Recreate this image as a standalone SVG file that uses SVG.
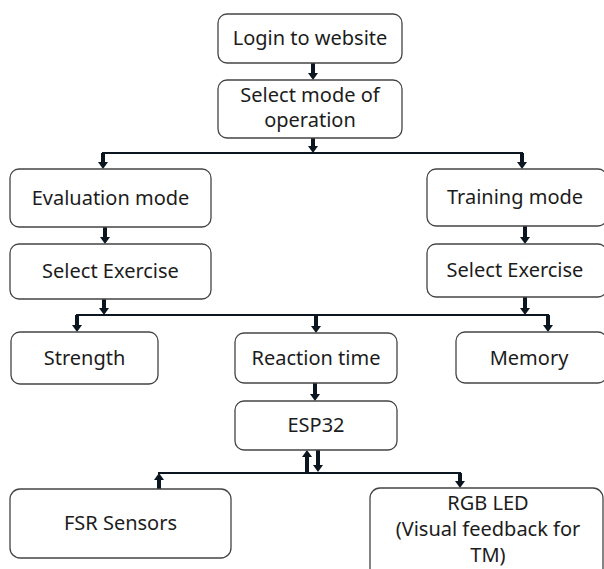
<svg xmlns="http://www.w3.org/2000/svg" width="604" height="569" viewBox="0 0 604 569">
<defs>
<style>
.box{fill:#fff;stroke:#444;stroke-width:1.3}
.t{font-family:"Noto Sans","Liberation Sans",sans-serif;font-size:20px;fill:#1c1c1c;text-anchor:middle}
.ln{stroke:#0c1620;stroke-width:2;fill:none}
.ar{stroke:#0c1620;stroke-width:4;fill:none;marker-end:url(#ah)}
</style>
<marker id="ah" markerUnits="userSpaceOnUse" markerWidth="7" markerHeight="10" refX="2" refY="5" orient="auto" viewBox="0 0 7 10">
<path d="M0,0 L7,5 L0,10 Z" fill="#0c1620"/>
</marker>
</defs>
<rect width="604" height="569" fill="#fff"/>
<g id="connectors">
<line class="ar" x1="313" y1="63" x2="313" y2="75"/>
<line class="ar" x1="313" y1="138" x2="313" y2="148"/>
<line class="ln" x1="102" y1="153" x2="523" y2="153"/>
<line class="ar" x1="103" y1="153" x2="103" y2="164"/>
<line class="ar" x1="522" y1="153" x2="522" y2="164"/>
<line class="ar" x1="105" y1="227" x2="105" y2="239"/>
<line class="ar" x1="525" y1="226" x2="525" y2="239"/>
<line class="ar" x1="104" y1="299" x2="104" y2="310"/>
<line class="ar" x1="525" y1="297" x2="525" y2="310"/>
<line class="ln" x1="76" y1="315" x2="549" y2="315"/>
<line class="ar" x1="77" y1="315" x2="77" y2="327"/>
<line class="ar" x1="316" y1="315" x2="316" y2="328"/>
<line class="ar" x1="548" y1="315" x2="548" y2="327"/>
<line class="ar" x1="315" y1="383" x2="315" y2="396"/>
<line class="ar" x1="307" y1="473" x2="307" y2="455"/>
<line class="ar" x1="318" y1="450" x2="318" y2="467"/>
<line class="ln" x1="158" y1="473" x2="461" y2="473"/>
<line class="ar" x1="159" y1="489" x2="159" y2="478"/>
<line class="ar" x1="460" y1="473" x2="460" y2="483"/>
</g>
<g id="login"><rect class="box" x="218" y="14" width="184" height="49" rx="9"/><text class="t" x="310" y="45">Login to website</text></g>
<g id="select-mode"><rect class="box" x="218" y="80" width="184" height="58" rx="9"/><text class="t" x="310" y="102">Select mode of</text><text class="t" x="310" y="127">operation</text></g>
<g id="evaluation"><rect class="box" x="10" y="169" width="201" height="58" rx="9"/><text class="t" x="110.5" y="205">Evaluation mode</text></g>
<g id="training"><rect class="box" x="427" y="169" width="180" height="57" rx="9"/><text class="t" x="515" y="204">Training mode</text></g>
<g id="select-ex-left"><rect class="box" x="10" y="244" width="201" height="55" rx="9"/><text class="t" x="110.5" y="278">Select Exercise</text></g>
<g id="select-ex-right"><rect class="box" x="427" y="244" width="180" height="53" rx="9"/><text class="t" x="515" y="277">Select Exercise</text></g>
<g id="strength"><rect class="box" x="11" y="332" width="147" height="52" rx="9"/><text class="t" x="84.5" y="365">Strength</text></g>
<g id="reaction"><rect class="box" x="235" y="333" width="162" height="50" rx="9"/><text class="t" x="316" y="365">Reaction time</text></g>
<g id="memory"><rect class="box" x="456" y="332" width="151" height="51" rx="9"/><text class="t" x="529" y="365">Memory</text></g>
<g id="esp32"><rect class="box" x="235" y="401" width="162" height="49" rx="9"/><text class="t" x="316" y="432">ESP32</text></g>
<g id="fsr"><rect class="box" x="10" y="489" width="221" height="69" rx="10"/><text class="t" x="120.5" y="530">FSR Sensors</text></g>
<g id="rgb"><rect class="box" x="370" y="488" width="233" height="90" rx="10"/><text class="t" x="488" y="510">RGB LED</text><text class="t" x="488" y="536">(Visual feedback for</text><text class="t" x="488" y="562">TM)</text></g>
</svg>
